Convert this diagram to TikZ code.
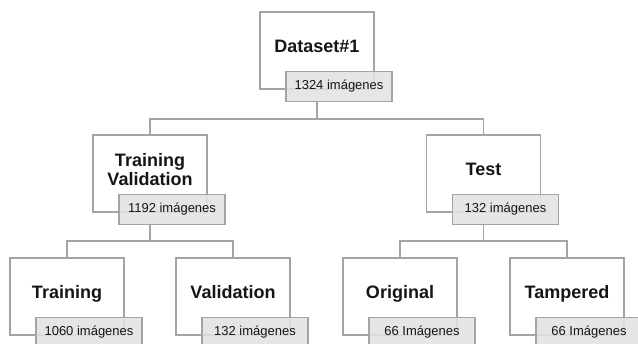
\documentclass[tikz,border=0pt]{standalone}
\usepackage{fontspec}
\setmainfont{Liberation Sans}
\usepackage{tikz}
\usetikzlibrary{positioning}
\definecolor{edge}{HTML}{A4A4A4}
\definecolor{tagfill}{HTML}{E2E2E2}
\definecolor{ink}{HTML}{151515}
\tikzset{
  box/.style={draw=edge,line width=1.3pt,fill=white,align=center,text=ink,font=\bfseries\fontsize{18}{19}\selectfont,minimum width=114pt,minimum height=77pt,inner sep=0pt,text depth=9pt},
  tag/.style={draw=edge,line width=1.3pt,fill=tagfill,fill opacity=0.88,text opacity=1,text=ink,font=\fontsize{13}{15}\selectfont,minimum width=106pt,minimum height=30pt,inner sep=0pt,anchor=north west},
  link/.style={draw=edge,line width=1.3pt}}
\begin{document}
\begin{tikzpicture}[x=1pt,y=-1pt]
\useasboundingbox (0,0) rectangle (638,344);
% boxes
\node[box] (ds) at (317,50.5) {Dataset\#1};
\node[box] (tv) at (150,173.5) {Training\\Validation};
\node[box] (te) at (483.5,173.5) {Test};
\node[box] (tr) at (67,296.5) {Training};
\node[box] (va) at (233,296.5) {Validation};
\node[box] (or) at (400,296.5) {Original};
\node[box] (ta) at (567,296.5) {Tampered};
% image counts
\node[tag] (dst) at ([xshift=26pt,yshift=19pt]ds.south west) {1324 imágenes};
\node[tag] (tvt) at ([xshift=26pt,yshift=19pt]tv.south west) {1192 imágenes};
\node[tag] (tet) at ([xshift=26pt,yshift=19pt]te.south west) {132 imágenes};
\node[tag] (trt) at ([xshift=26pt,yshift=19pt]tr.south west) {1060 imágenes};
\node[tag] (vat) at ([xshift=26pt,yshift=19pt]va.south west) {132 imágenes};
\node[tag] (ort) at ([xshift=26pt,yshift=19pt]or.south west) {66 Imágenes};
\node[tag] (tat) at ([xshift=26pt,yshift=19pt]ta.south west) {66 Imágenes};
% links
\draw[link] (ds.south |- dst.south) -- ++(0,17) coordinate (j1) -| (tv.north);
\draw[link] (j1) -| (te.north);
\draw[link] (tv.south |- tvt.south) -- ++(0,16) coordinate (j2) -| (tr.north);
\draw[link] (j2) -| (va.north);
\draw[link] (te.south |- tet.south) -- ++(0,16) coordinate (j3) -| (or.north);
\draw[link] (j3) -| (ta.north);
\end{tikzpicture}
\end{document}
